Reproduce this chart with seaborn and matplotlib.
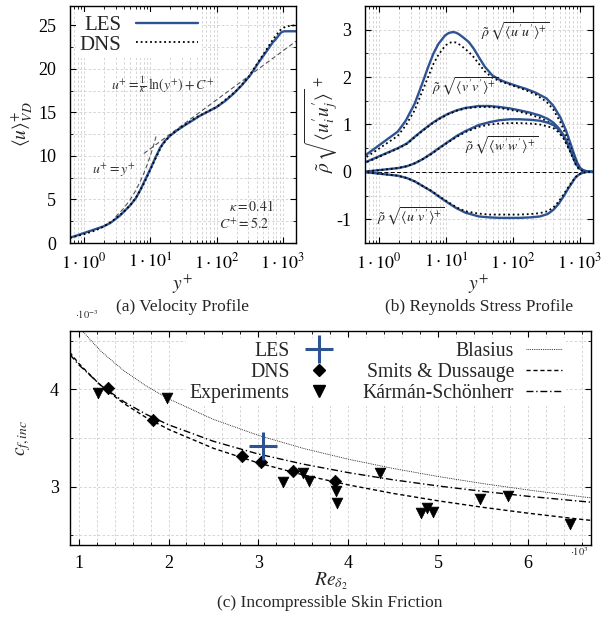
import numpy as np
import matplotlib
matplotlib.use("Agg")
import matplotlib.pyplot as plt
from matplotlib.lines import Line2D
from matplotlib.ticker import (FixedLocator, MultipleLocator, FuncFormatter,
                               LogLocator, NullFormatter)
import seaborn as sns

# ---------------- (a) Velocity profile ----------------
yplus_les_a = [0.615, 1.96, 2.5, 3.49, 4.94, 6.0, 6.98, 8.3, 9.9, 11.8, 14.0, 16.5,
               19.8, 25, 31.4, 42, 56, 75, 100, 135, 178, 240, 318, 420, 567, 700,
               803, 900, 955, 1050, 1577]
u_les_a = [0.6, 1.9, 2.3, 3.15, 4.3, 5.1, 6.0, 7.2, 8.4, 9.7, 10.9, 11.7,
           12.3, 12.9, 13.4, 14.0, 14.6, 15.1, 15.6, 16.3, 17.1, 18.1, 19.2, 20.6,
           22.0, 23.0, 23.5, 24.0, 24.2, 24.3, 24.3]
yplus_dns_a = [0.615, 1.0, 1.5, 2.0, 3.0, 4.0, 5.0, 6.0, 7.0, 8.0, 10, 12, 15, 20,
               30, 50, 100, 200, 300, 500, 700, 900, 1100, 1577]
u_dns_a = [0.6, 1.0, 1.45, 1.9, 2.8, 3.6, 4.35, 5.15, 6.0, 6.8, 8.4, 9.7, 11.2, 12.35,
           13.35, 14.45, 15.6, 17.5, 19.0, 21.6, 23.3, 24.4, 24.85, 25.0]
loglaw_yplus = [8.0, 1577]
loglaw_u = [10.27, 23.16]
linlaw_yplus = [3, 4, 5, 6, 7, 8, 9, 10, 11, 12.5]
linlaw_u = [3, 4, 5, 6, 7, 8, 9, 10, 11, 12.5]

# ---------------- (b) Reynolds stresses ----------------
yp_uu = [0.57, 1.9, 2.5, 3.4, 4.3, 5.4, 6.5, 7.7, 9.7, 11, 12.5, 14, 15.4, 18, 21.9,
         26, 31, 38, 49, 62, 79, 110, 158, 220, 318, 400, 513, 620, 726, 820, 913,
         1020, 1150, 1300, 1577]
uu_les = [0.31, 0.85, 1.08, 1.44, 1.82, 2.21, 2.50, 2.70, 2.88, 2.93, 2.95, 2.94,
          2.91, 2.84, 2.74, 2.60, 2.42, 2.22, 2.04, 1.95, 1.89, 1.82, 1.75, 1.67,
          1.55, 1.40, 1.15, 0.88, 0.60, 0.38, 0.20, 0.08, 0.03, 0.01, 0.0]
uu_dns = [0.26, 0.76, 0.98, 1.30, 1.66, 2.00, 2.28, 2.47, 2.66, 2.72, 2.74, 2.73,
          2.70, 2.63, 2.53, 2.42, 2.28, 2.12, 1.99, 1.92, 1.87, 1.80, 1.72, 1.63,
          1.48, 1.32, 1.05, 0.78, 0.52, 0.32, 0.16, 0.06, 0.02, 0.0, 0.0]
yp_s = [0.57, 1.9, 2.6, 3.4, 4.5, 6.08, 8, 10.9, 14.5, 19.5, 31, 45, 62.7, 90, 125,
        180, 253, 330, 403, 480, 570, 660, 765, 860, 967, 1100, 1290, 1577]
vv_les = [0.18, 0.50, 0.60, 0.74, 0.88, 1.02, 1.13, 1.23, 1.30, 1.35, 1.39, 1.39,
          1.37, 1.34, 1.30, 1.25, 1.19, 1.12, 1.04, 0.93, 0.78, 0.60, 0.38, 0.20,
          0.09, 0.03, 0.01, 0.0]
vv_dns = [0.17, 0.49, 0.59, 0.73, 0.87, 1.01, 1.12, 1.22, 1.29, 1.34, 1.37, 1.37,
          1.35, 1.31, 1.27, 1.21, 1.14, 1.06, 0.98, 0.87, 0.72, 0.54, 0.34, 0.17,
          0.07, 0.02, 0.0, 0.0]
ww_les = [0.0, 0.08, 0.12, 0.18, 0.27, 0.39, 0.51, 0.64, 0.76, 0.86, 0.99, 1.05,
          1.09, 1.11, 1.11, 1.10, 1.08, 1.04, 0.99, 0.90, 0.77, 0.59, 0.38, 0.20,
          0.09, 0.03, 0.01, 0.0]
ww_dns = [0.0, 0.08, 0.12, 0.18, 0.27, 0.38, 0.50, 0.63, 0.74, 0.84, 0.95, 1.00,
          1.02, 1.03, 1.03, 1.02, 1.00, 0.96, 0.92, 0.84, 0.71, 0.54, 0.34, 0.17,
          0.07, 0.02, 0.0, 0.0]
uv_les = [0.0, -0.08, -0.13, -0.20, -0.30, -0.41, -0.53, -0.66, -0.77, -0.86, -0.94,
          -0.96, -0.97, -0.97, -0.97, -0.96, -0.94, -0.89, -0.80, -0.68, -0.52, -0.37,
          -0.23, -0.12, -0.06, -0.02, 0.0, 0.0]
uv_dns = [0.0, -0.08, -0.13, -0.20, -0.30, -0.40, -0.52, -0.64, -0.75, -0.83, -0.88,
          -0.90, -0.90, -0.90, -0.90, -0.89, -0.87, -0.83, -0.75, -0.63, -0.48, -0.34,
          -0.21, -0.11, -0.05, -0.02, 0.0, 0.0]

# ---------------- (c) Skin friction ----------------
re_curve = [900, 1000, 1250, 1500, 1750, 2000, 2500, 3000, 3500, 4000, 4500, 5000,
            5500, 6000, 6500, 6700]
cf_blasius = [4.765e-3, 4.642e-3, 4.390e-3, 4.194e-3, 4.035e-3, 3.903e-3, 3.691e-3,
              3.527e-3, 3.393e-3, 3.282e-3, 3.187e-3, 3.104e-3, 3.031e-3, 2.966e-3,
              2.907e-3, 2.885e-3]
cf_smits = [4.382e-3, 4.268e-3, 4.036e-3, 3.857e-3, 3.711e-3, 3.589e-3, 3.394e-3,
            3.243e-3, 3.120e-3, 3.018e-3, 2.930e-3, 2.854e-3, 2.787e-3, 2.727e-3,
            2.673e-3, 2.653e-3]
cf_ks = [4.362e-3, 4.254e-3, 4.039e-3, 3.875e-3, 3.744e-3, 3.636e-3, 3.466e-3,
         3.335e-3, 3.231e-3, 3.144e-3, 3.070e-3, 3.007e-3, 2.951e-3, 2.901e-3,
         2.857e-3, 2.840e-3]
re_dns = [1327, 1828, 2822, 3027, 3388, 3851]
cf_dns = [4.01e-3, 3.685e-3, 3.315e-3, 3.255e-3, 3.165e-3, 3.061e-3]
re_exp = [1221, 1988, 3277, 3499, 3566, 3862, 3870, 4351, 4814, 4877, 4943, 5462,
          5777, 6471]
cf_exp = [3.965e-3, 3.907e-3, 3.05e-3, 3.137e-3, 3.061e-3, 2.955e-3, 2.828e-3,
          3.137e-3, 2.732e-3, 2.777e-3, 2.742e-3, 2.87e-3, 2.903e-3, 2.613e-3]
re_les = [3048]
cf_les = [3.417e-3]

xticks_log = [1, 10, 100, 1000]

# ---------------- style ----------------
sns.set_style("ticks")
plt.rcParams['font.family'] = ['Liberation Serif', 'DejaVu Serif']
plt.rcParams['mathtext.fontset'] = 'stix'
plt.rcParams['axes.linewidth'] = 1.0
BLUE = '#2d5393'
GRID = '#cfcfcf'
DOT = (0, (1, 1.6))
TICK_FS = 13

W, H = 614, 617
fig = plt.figure(figsize=(W / 100, H / 100), dpi=100)


def px_axes(l, t, r, b):
    return fig.add_axes([l / W, 1 - b / H, (r - l) / W, (b - t) / H])


ax_a = px_axes(70, 6, 296, 243)
ax_b = px_axes(365, 6, 593, 243)
ax_c = px_axes(70, 331, 591, 545)


def style_axes(ax, ypad):
    ax.tick_params(which='both', direction='in', top=True, right=True,
                   colors='black', labelsize=TICK_FS)
    ax.tick_params(which='major', length=4, width=0.8)
    ax.tick_params(which='minor', length=2.2, width=0.6)
    ax.tick_params(axis='y', pad=ypad)
    ax.grid(which='both', linestyle=(0, (3, 2.5)), color=GRID, linewidth=0.6)
    ax.set_axisbelow(True)
    for s in ax.spines.values():
        s.set_visible(True)
        s.set_color('black')


def log_x(ax):
    ax.set_xscale('log')
    ax.set_xlim(0.615, 1577)
    ax.xaxis.set_major_locator(FixedLocator(xticks_log))
    ax.xaxis.set_major_formatter(
        FuncFormatter(lambda v, p: r'$1\cdot10^{%d}$' % round(np.log10(v))))
    ax.xaxis.set_minor_locator(LogLocator(base=10, subs=np.arange(2, 10), numticks=30))
    ax.xaxis.set_minor_formatter(NullFormatter())
    ax.tick_params(axis='x', pad=7)
    ax.set_xlabel(r'$y^{+}$', fontsize=14, labelpad=0)


# ---------------- panel (a) ----------------
log_x(ax_a)
style_axes(ax_a, 10)
sns.lineplot(x=loglaw_yplus, y=loglaw_u, ax=ax_a, color='#555555', lw=0.8,
             linestyle=(0, (4, 2.5)), estimator=None, sort=False)
sns.lineplot(x=linlaw_yplus, y=linlaw_u, ax=ax_a, color='#555555', lw=0.8,
             linestyle=(0, (4, 2.5)), estimator=None, sort=False)
sns.lineplot(x=yplus_les_a, y=u_les_a, ax=ax_a, color=BLUE, lw=1.7,
             estimator=None, sort=False)
sns.lineplot(x=yplus_dns_a, y=u_dns_a, ax=ax_a, color='black', lw=1.3,
             linestyle=DOT, estimator=None, sort=False)
ax_a.set_ylim(0, 27.2)
ax_a.yaxis.set_major_locator(FixedLocator([0, 5, 10, 15, 20, 25]))
ax_a.yaxis.set_minor_locator(MultipleLocator(2.5))
ax_a.set_ylabel(r'$\langle u\rangle^{+}_{VD}$', fontsize=14, labelpad=3)
ax_a.text(15.5, 18.2, r'$u^{+}=\frac{1}{\kappa}\,\ln(y^{+})+C^{+}$', fontsize=10,
          color='#333333', ha='center', va='center')
ax_a.text(2.83, 8.3, r'$u^{+}=y^{+}$', fontsize=10, color='#333333',
          ha='center', va='center')
ax_a.text(720, 4.2, r'$\kappa=0.41$', fontsize=10, color='#333333',
          ha='right', va='center')
ax_a.text(620, 2.2, r'$C^{+}=5.2$', fontsize=10, color='#333333',
          ha='right', va='center')
h_a = [Line2D([], [], color=BLUE, lw=1.7),
       Line2D([], [], color='black', lw=1.3, linestyle=DOT)]
ax_a.legend(h_a, ['LES', 'DNS'], loc='upper left', markerfirst=False,
            fontsize=15, handlelength=3.0, handletextpad=0.7,
            labelspacing=0.0, borderpad=0.15, borderaxespad=0.3,
            frameon=True, fancybox=False, framealpha=1,
            facecolor='white', edgecolor='none')

# ---------------- panel (b) ----------------
log_x(ax_b)
style_axes(ax_b, 10)
ax_b.axhline(0, color='black', lw=0.7, linestyle=(0, (4, 2.5)))
for yp, les, dns in [(yp_uu, uu_les, uu_dns), (yp_s, vv_les, vv_dns),
                     (yp_s, ww_les, ww_dns), (yp_s, uv_les, uv_dns)]:
    sns.lineplot(x=yp, y=les, ax=ax_b, color=BLUE, lw=1.7, estimator=None, sort=False)
    sns.lineplot(x=yp, y=dns, ax=ax_b, color='black', lw=1.3, linestyle=DOT,
                 estimator=None, sort=False)
ax_b.set_ylim(-1.5, 3.5)
ax_b.yaxis.set_major_locator(FixedLocator([-1, 0, 1, 2, 3]))
ax_b.yaxis.set_minor_locator(MultipleLocator(0.5))
ax_b.yaxis.set_major_formatter(FuncFormatter(lambda v, p: '%d' % round(v)))
ax_b.set_ylabel(r'$\tilde{\rho}\,\sqrt{\langle u_i^{\prime}u_j^{\prime}\rangle}^{\,+}$',
                fontsize=14, labelpad=-3)
lab_kw = dict(fontsize=10, color='#222222', ha='left', va='center')
ax_b.text(33, 2.95, r'$\tilde{\rho}\,\sqrt{\langle u^{\prime}u^{\prime}\rangle^{+}}$', **lab_kw)
ax_b.text(6.1, 1.8, r'$\tilde{\rho}\,\sqrt{\langle v^{\prime}v^{\prime}\rangle^{+}}$', **lab_kw)
ax_b.text(19.5, 0.55, r'$\tilde{\rho}\,\sqrt{\langle w^{\prime}w^{\prime}\rangle^{+}}$', **lab_kw)
ax_b.text(0.94, -0.95, r'$\tilde{\rho}\,\sqrt{\langle u^{\prime}v^{\prime}\rangle^{+}}$', **lab_kw)

# ---------------- panel (c) ----------------
style_axes(ax_c, 8)
ax_c.tick_params(axis='x', pad=7)
sns.lineplot(x=re_curve, y=cf_blasius, ax=ax_c, color='black', lw=0.6,
             linestyle=(0, (1, 1.2)), estimator=None, sort=False)
sns.lineplot(x=re_curve, y=cf_smits, ax=ax_c, color='black', lw=1.0,
             linestyle=(0, (3, 2)), estimator=None, sort=False)
sns.lineplot(x=re_curve, y=cf_ks, ax=ax_c, color='black', lw=1.0,
             linestyle=(0, (5, 2, 1, 2)), estimator=None, sort=False)
sns.scatterplot(x=re_exp, y=cf_exp, ax=ax_c, marker='v', s=60, color='black',
                edgecolor='black', linewidth=0.5, zorder=4)
sns.scatterplot(x=re_dns, y=cf_dns, ax=ax_c, marker='D', s=40, color='black',
                edgecolor='black', linewidth=0.5, zorder=5)
ax_c.scatter(re_les, cf_les, marker='+', s=420, color=BLUE, linewidths=2.2, zorder=6)
ax_c.set_xlim(904, 6700)
ax_c.set_ylim(2.4e-3, 4.6e-3)
ax_c.xaxis.set_major_locator(FixedLocator([1000, 2000, 3000, 4000, 5000, 6000]))
ax_c.xaxis.set_minor_locator(MultipleLocator(200))
ax_c.xaxis.set_major_formatter(FuncFormatter(lambda v, p: '%d' % round(v / 1000)))
ax_c.yaxis.set_major_locator(FixedLocator([3e-3, 4e-3]))
ax_c.yaxis.set_minor_locator(MultipleLocator(0.5e-3))
ax_c.yaxis.set_major_formatter(FuncFormatter(lambda v, p: '%d' % round(v * 1000)))
ax_c.grid(which='minor', axis='x', linestyle=(0, (3, 2.5)), color=GRID, linewidth=0.6)
ax_c.set_xlabel(r'$Re_{\delta_2}$', fontsize=14, labelpad=-1)
ax_c.set_ylabel(r'$c_{f,inc}$', fontsize=14, labelpad=12)
h_c = [Line2D([], [], color=BLUE, marker='+', ms=20, mew=2.2, linestyle='none'),
       Line2D([], [], color='black', marker='D', ms=6, linestyle='none'),
       Line2D([], [], color='black', marker='v', ms=8, linestyle='none'),
       Line2D([], [], color='black', lw=0.6, linestyle=(0, (1, 1.2))),
       Line2D([], [], color='black', lw=1.0, linestyle=(0, (3, 2))),
       Line2D([], [], color='black', lw=1.0, linestyle=(0, (5, 2, 1, 2)))]
l_c = ['LES', 'DNS', 'Experiments', 'Blasius', 'Smits & Dussauge', 'Kármán-Schönherr']
ax_c.legend(h_c, l_c, ncol=2, loc='upper right', bbox_to_anchor=(0.97, 1.015),
            markerfirst=False, fontsize=14.2, handlelength=1.8, handletextpad=0.6,
            columnspacing=1.3, labelspacing=0.1, borderpad=0.2,
            frameon=True, fancybox=False, framealpha=1, facecolor='white',
            edgecolor='none')

# offsets and captions
fig.text(75 / W, 1 - 315 / H, r'$\cdot10^{-3}$', fontsize=7.5, ha='left', va='center')
fig.text(570 / W, 1 - 552 / H, r'$\cdot10^{3}$', fontsize=7.5, ha='left', va='center')
fig.text(183 / W, 1 - 307 / H, '(a) Velocity Profile', fontsize=12.5, ha='center', va='center')
fig.text(479 / W, 1 - 307 / H, '(b) Reynolds Stress Profile', fontsize=12.5, ha='center', va='center')
fig.text(330 / W, 1 - 603 / H, '(c) Incompressible Skin Friction', fontsize=12.5,
         ha='center', va='center')

fig.savefig('out.png', dpi=100)
